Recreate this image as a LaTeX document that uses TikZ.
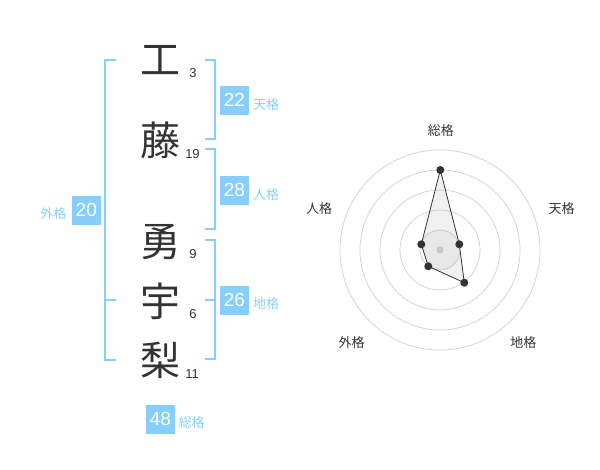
\documentclass[tikz,border=0pt]{standalone}
\usepackage{fontspec}
\setmainfont{Liberation Sans}
\newfontfamily\jp{Noto Sans CJK JP}
\definecolor{sky}{HTML}{87CEFA}
\definecolor{ink}{HTML}{333333}
\definecolor{ring}{HTML}{CFCFCF}
\tikzset{
  kanji/.style={font=\jp\fontsize{40}{40}\selectfont, text=ink, inner sep=0pt},
  strokes/.style={font=\fontsize{13}{13}\selectfont, text=ink, inner sep=0pt},
  valbox/.style={fill=sky, text=white, minimum size=29pt, inner sep=0pt, font=\fontsize{19}{19}\selectfont},
  kaku/.style={text=sky, font=\jp\fontsize{13}{13}\selectfont, inner sep=0pt},
  axislab/.style={text=ink, font=\jp\fontsize{13}{13}\selectfont, inner sep=0pt},
  brk/.style={draw=sky, line width=2pt},
  ringline/.style={draw=ring, line width=0.7pt},
  dot/.style={circle, fill=ink, inner sep=0pt, minimum size=8pt},
}
\begin{document}
\begin{tikzpicture}[x=1pt,y=-1pt]
\useasboundingbox (0,0) rectangle (600,470);
% brackets
\draw[brk] (116,60) -- (105,60) -- (105,360) -- (116,360);
\draw[brk] (105,300) -- (116,300);
\draw[brk] (205,60) -- (214.5,60) -- (214.5,139.5) -- (205,139.5);
\draw[brk] (205,149.5) -- (214.5,149.5) -- (214.5,229) -- (205,229);
\draw[brk] (205,240) -- (214.5,240) -- (214.5,359.5) -- (205,359.5);
\draw[brk] (205,300) -- (214.5,300);
% kanji
\node[kanji] (k1) at (160,60) {工};
\node[kanji] (k2) at (160,140.8) {藤};
\node[kanji] (k3) at (160,242) {勇};
\node[kanji] (k4) at (160,301.7) {宇};
\node[kanji] (k5) at (160,360) {梨};
% stroke counts
\node[strokes, anchor=base] (s1) at (193,77.7) {3};
\node[strokes, anchor=base] (s2) at (192.5,158.3) {19};
\node[strokes, anchor=base] (s3) at (193,258.3) {9};
\node[strokes, anchor=base] (s4) at (193,318.3) {6};
\node[strokes, anchor=base] (s5) at (192,378.3) {11};
% values
\node[valbox] (ten) at (234.5,100.3) {22};
\node[kaku] (tenl) at (266,104.2) {天格};
\node[valbox] (jin) at (234.5,190.3) {28};
\node[kaku] (jinl) at (266,194.2) {人格};
\node[valbox] (chi) at (234.5,300.3) {26};
\node[kaku] (chil) at (266,303.7) {地格};
\node[valbox] (gai) at (86.3,210.3) {20};
\node[kaku] (gail) at (53.3,213.8) {外格};
\node[valbox] (sou) at (160.5,419.2) {48};
\node[kaku] (soul) at (191.7,422.8) {総格};
% radar
\coordinate (c) at (440,250);
\fill[gray!6] (c) circle (20);
\foreach \r in {20,40,60,80,100} \draw[ringline] (c) circle (\r);
\coordinate (p1) at (440.3,170);
\coordinate (p2) at (459.3,244.3);
\coordinate (p3) at (464.3,282.7);
\coordinate (p4) at (428.3,266.3);
\coordinate (p5) at (421.3,244.3);
\draw[fill=gray, fill opacity=0.12, draw=ink, line width=0.8pt] (p1) -- (p2) -- (p3) -- (p4) -- (p5) -- cycle;
\fill[ring!90!gray] (c) circle (3.5);
\foreach \p in {p1,p2,p3,p4,p5} \node[dot] at (\p) {};
\node[axislab] (a1) at (440.8,130.8) {総格};
\node[axislab] (a2) at (561.7,208.3) {天格};
\node[axislab] (a3) at (523.3,342.3) {地格};
\node[axislab] (a4) at (351.7,342.3) {外格};
\node[axislab] (a5) at (319,208.3) {人格};
\end{tikzpicture}
\end{document}
